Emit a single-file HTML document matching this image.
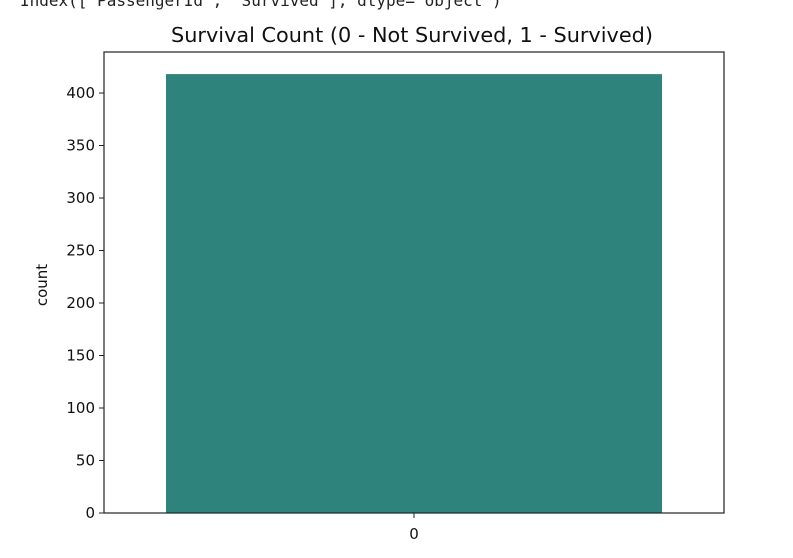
<!DOCTYPE html>
<html><head><meta charset="utf-8"><style>
body{margin:0;background:#fff;width:793px;height:558px;overflow:hidden}
svg{display:block}
</style></head><body>
<svg width="793" height="558" font-family="DejaVu Sans, Liberation Sans, sans-serif">
<text x="20" y="6" font-family="DejaVu Sans Mono, Liberation Mono, monospace" font-size="16" fill="#222">Index(['PassengerId', 'Survived'], dtype='object')</text>
<text x="412" y="42" text-anchor="middle" font-size="20.8" fill="#111">Survival Count (0 - Not Survived, 1 - Survived)</text>
<text transform="translate(47,285) rotate(-90)" text-anchor="middle" font-size="15" fill="#111">count</text>
<g id="bars"></g>
<g id="yticks"></g>
<g id="xticks"></g>
<rect x="104" y="52" width="620" height="461" fill="none" stroke="#222" stroke-width="1.2"/>
</svg>
<script>
const categories = ["0"];
const counts = [418];
const yTicks = [0,50,100,150,200,250,300,350,400];
const NS="http://www.w3.org/2000/svg";
const L=104,R=724,T=52,B=513;
function y(v){return B - v*(420/400);}
function x(i){const step=(R-L)/categories.length;return L+step*(i+0.5);}
const bw=496;
const bars=document.getElementById('bars');
counts.forEach((c,i)=>{
 const r=document.createElementNS(NS,'rect');
 r.setAttribute('x',x(i)-bw/2);r.setAttribute('y',y(c));
 r.setAttribute('width',bw);r.setAttribute('height',B-y(c));
 r.setAttribute('fill','#2e837c');
 
 
 bars.appendChild(r);
});
const yt=document.getElementById('yticks');
yTicks.forEach(v=>{
 const l=document.createElementNS(NS,'line');
 l.setAttribute('x1',L-5);l.setAttribute('x2',L);l.setAttribute('y1',y(v));l.setAttribute('y2',y(v));l.setAttribute('stroke','#222');
 
 
 yt.appendChild(l);
 const t=document.createElementNS(NS,'text');
 t.setAttribute('x',L-9);t.setAttribute('y',y(v)+5);t.setAttribute('text-anchor','end');t.setAttribute('font-size','15');t.setAttribute('fill','#111');
 t.textContent=v;
 
 
 yt.appendChild(t);
});
const xt=document.getElementById('xticks');
categories.forEach((c,i)=>{
 const l=document.createElementNS(NS,'line');
 l.setAttribute('x1',x(i));l.setAttribute('x2',x(i));l.setAttribute('y1',B);l.setAttribute('y2',B+5);l.setAttribute('stroke','#222');
 
 
 xt.appendChild(l);
 const t=document.createElementNS(NS,'text');
 t.setAttribute('x',x(i));t.setAttribute('y',B+26);t.setAttribute('text-anchor','middle');t.setAttribute('font-size','15');t.setAttribute('fill','#111');
 t.textContent=c;
 
 
 xt.appendChild(t);
});
</script>
</body></html>
